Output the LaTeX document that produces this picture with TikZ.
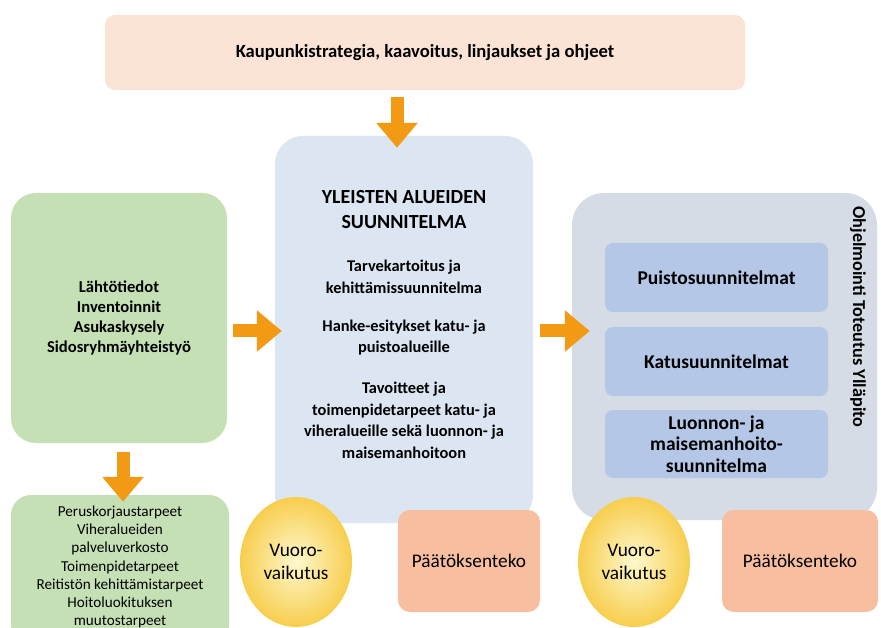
\documentclass[tikz,border=0pt]{standalone}
\usepackage{fontspec}
\setmainfont{Carlito}
\usetikzlibrary{arrows.meta,shapes.geometric}
\definecolor{arrowc}{RGB}{243,154,20}
\definecolor{topc}{RGB}{251,228,214}
\definecolor{greenc}{RGB}{197,224,180}
\definecolor{bluec}{RGB}{220,230,242}
\definecolor{grayc}{RGB}{214,220,229}
\definecolor{innerc}{RGB}{180,199,231}
\definecolor{pinkc}{RGB}{247,190,160}
\definecolor{yelin}{RGB}{255,248,205}
\definecolor{yelout}{RGB}{247,206,78}
\newcommand\fsz[2]{\fontsize{#1}{#2}\selectfont}
\begin{document}
\begin{tikzpicture}[x=1pt,y=-1pt,
  panel/.style={inner sep=0pt, align=center},
  arr/.style={draw=arrowc, line width=13pt, -{Triangle[width=40pt,length=25pt]}},
  bodyb/.style={font=\bfseries\fsz{16.4}{21.5}, align=center, inner sep=0pt},
  ell/.style={ellipse, inner sep=0pt, minimum width=112pt, minimum height=130pt, shading=radial, inner color=yelin, outer color=yelout, align=center, font=\fsz{19.3}{23.5}},
  pinkbox/.style={panel, fill=pinkc, rounded corners=12pt, minimum height=102pt, font=\fsz{19.3}{22}},
  innerbox/.style={panel, fill=innerc, rounded corners=8pt, minimum width=223pt, font=\bfseries\fsz{19.5}{21.7}}
]
\useasboundingbox (0,0) rectangle (881,628);
\fill[white] (0,0) rectangle (881,628);

% top box
\node[panel, fill=topc, rounded corners=10pt, minimum width=640pt, minimum height=75pt,
  font=\bfseries\fsz{18.6}{22}] (top) at (425,52.5) {Kaupunkistrategia, kaavoitus, linjaukset ja ohjeet};

% center box
\node[panel, fill=bluec, rounded corners=28pt, minimum width=258pt, minimum height=387pt] (cbox) at (404,329.5) {};
\node[font=\bfseries\fsz{20}{25}, align=center, inner sep=0pt] (ct1) at (404,209.5) {YLEISTEN ALUEIDEN\\SUUNNITELMA};
\node[bodyb] (ct2) at (404,277) {Tarvekartoitus ja\\kehittämissuunnitelma};
\node[bodyb] (ct3) at (404,337.5) {Hanke-esitykset katu- ja\\puistoalueille};
\node[bodyb] (ct4) at (404,420.5) {Tavoitteet ja\\toimenpidetarpeet katu- ja\\viheralueille sekä luonnon- ja\\maisemanhoitoon};

% left boxes
\node[panel, fill=greenc, rounded corners=25pt, minimum width=216pt, minimum height=250pt,
  font=\bfseries\fsz{16.6}{20}] (lbox) at (119,318) {Lähtötiedot\\Inventoinnit\\Asukaskysely\\Sidosryhmäyhteistyö};
\node[panel, fill=greenc, rounded corners=20pt, minimum width=218pt, minimum height=150pt] (lbox2) at (120,570) {};
\node[font=\fsz{15.2}{18.2}, align=center, inner sep=0pt] (lt2) at (120,567) {Peruskorjaustarpeet\\Viheralueiden\\palveluverkosto\\Toimenpidetarpeet\\Reitistön kehittämistarpeet\\Hoitoluokituksen\\muutostarpeet};

% right box
\node[panel, fill=grayc, rounded corners=32pt, minimum width=305pt, minimum height=327pt] (rbox) at (724.5,356.5) {};
\node[innerbox, minimum height=69pt] (p1) at (716.5,277.5) {Puistosuunnitelmat};
\node[innerbox, minimum height=69pt] (p2) at (716.5,361.5) {Katusuunnitelmat};
\node[innerbox, minimum height=68pt] (p3) at (716.5,444) {Luonnon- ja\\maisemanhoito-\\suunnitelma};
\node[rotate=-90, font=\bfseries\fsz{18.2}{21}, inner sep=0pt] (vlab) at (858,317) {Ohjelmointi Toteutus Ylläpito};

% bottom row
\node[ell] (e1) at (296,562) {Vuoro-\\vaikutus};
\node[pinkbox, minimum width=142pt] (d1) at (469,561) {Päätöksenteko};
\node[ell] (e2) at (634,562) {Vuoro-\\vaikutus};
\node[pinkbox, minimum width=156pt] (d2) at (800,561) {Päätöksenteko};

% arrows
\draw[arr] ([xshift=-28pt,yshift=-7pt]top.south) -- ([xshift=-7pt,yshift=-12pt]cbox.north);
\draw[arr] ([xshift=6pt,yshift=-13pt]lbox.east) -- ([xshift=7pt,yshift=-1.5pt]cbox.west);
\draw[arr] ([xshift=7pt,yshift=-1.5pt]cbox.east) -- ([xshift=18pt,yshift=25.5pt]rbox.west);
\draw[arr] ([xshift=4pt,yshift=-9pt]lbox.south) -- ([xshift=3pt,yshift=-7pt]lbox2.north);
\end{tikzpicture}
\end{document}
